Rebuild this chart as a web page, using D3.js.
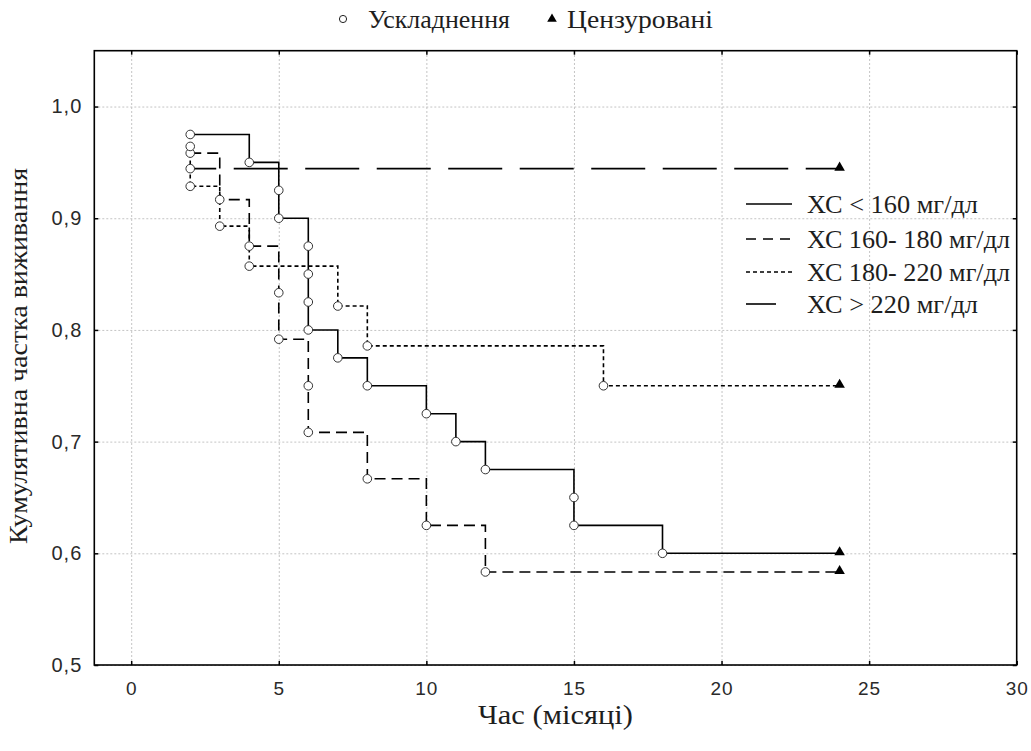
<!DOCTYPE html>
<html>
<head>
<meta charset="utf-8">
<script src="https://cdn.jsdelivr.net/npm/d3@7"></script>
<style>
  html, body { margin: 0; padding: 0; background: #fff; }
  svg { display: block; }
</style>
</head>
<body>
<svg id="chart" width="1031" height="751"></svg>
<script>
// ---- data ----
const xTicks = [0, 5, 10, 15, 20, 25, 30];
const yTicks = [0.5, 0.6, 0.7, 0.8, 0.9, 1.0];
const seriesNames = ["ХС < 160 мг/дл", "ХС 160- 180 мг/дл", "ХС 180- 220 мг/дл", "ХС > 220 мг/дл"];

const timesLt160 = [2, 4, 5, 5, 6, 6, 6, 6, 7, 8, 10, 11, 12, 15, 15, 18];
const survLt160  = [0.975, 0.95, 0.925, 0.9, 0.875, 0.85, 0.825, 0.8, 0.775, 0.75, 0.725, 0.7, 0.675, 0.65, 0.625, 0.6];

const times160_180 = [2, 3, 4, 5, 5, 6, 6, 8, 10, 12];
const surv160_180  = [0.9583, 0.9167, 0.875, 0.8333, 0.7917, 0.75, 0.7083, 0.6667, 0.625, 0.5833];

const times180_220 = [2, 2, 3, 4, 7, 8, 16];
const surv180_220  = [0.9643, 0.9286, 0.8929, 0.8571, 0.8214, 0.7857, 0.75];

const timesGt220 = [2];
const survGt220  = [0.9444];

const censorTimes = [24, 24, 24, 24];

const legendTop = ["Ускладнення", "Цензуровані"];
const xTitle = "Час (місяці)";
const yTitle = "Кумулятивна частка виживання";

// ---- layout ----
const svg = d3.select("#chart");
const L = 94.3, R = 1016.7, T = 50.7, B = 665;
const x = d3.scaleLinear().domain([-1.25, 30]).range([L, R]);
const y = d3.scaleLinear().domain([0.5, 1.05]).range([B, T]);
const fmt = d => d3.format(".1f")(d).replace(".", ",");
const SANS = "'Liberation Sans', Arial, sans-serif";
const SERIF = "'Liberation Serif', 'Times New Roman', serif";
const TXT = "#1e1e1e";

// grid
const gx = svg.append("g").attr("transform", `translate(0,${B})`)
  .call(d3.axisBottom(x).tickValues(xTicks.filter(v => v < 30)).tickSize(-(B - T)).tickFormat(""));
const gy = svg.append("g").attr("transform", `translate(${L},0)`)
  .call(d3.axisLeft(y).tickValues(yTicks).tickSize(-(R - L)).tickFormat(""));
[gx, gy].forEach(g => {
  g.select(".domain").remove();
  g.selectAll(".tick line").attr("stroke", "#c4c4c4").attr("stroke-width", 1).attr("stroke-dasharray", "2,2");
});

// axes with inward ticks
const axB = svg.append("g").attr("transform", `translate(0,${B})`)
  .call(d3.axisBottom(x).tickValues(xTicks).tickSize(-4).tickPadding(17).tickFormat(d3.format("d")));
const axL = svg.append("g").attr("transform", `translate(${L},0)`)
  .call(d3.axisLeft(y).tickValues(yTicks).tickSize(-4).tickPadding(12).tickFormat(fmt));
const axT = svg.append("g").attr("transform", `translate(0,${T})`)
  .call(d3.axisTop(x).tickValues(xTicks).tickSize(-4).tickFormat(""));
const axR = svg.append("g").attr("transform", `translate(${R},0)`)
  .call(d3.axisRight(y).tickValues(yTicks).tickSize(-4).tickFormat(""));
[axB, axL, axT, axR].forEach(g => {
  g.select(".domain").remove();
  g.selectAll(".tick line").attr("stroke", "#000").attr("stroke-width", 1.5);
  g.selectAll(".tick text").attr("font-family", SANS).attr("font-size", 20).attr("fill", "#2a2a2a")
    .attr("letter-spacing", 1);
});
axB.selectAll(".tick text").attr("font-size", 19);

// frame
svg.append("rect").attr("x", L).attr("y", T).attr("width", R - L).attr("height", B - T)
  .attr("fill", "none").attr("stroke", "#000").attr("stroke-width", 1.6);

// series
const series = [
  { t: timesLt160, s: survLt160, dash: null, off: 0 },
  { t: times160_180, s: surv160_180, dash: "11,6", off: 0 },
  { t: times180_220, s: surv180_220, dash: "4,3", off: 0 },
  { t: timesGt220, s: survGt220, dash: "54,17.5", off: 28 }
];
const line = d3.line().x(d => x(d[0])).y(d => y(d[1])).curve(d3.curveStepAfter);
series.forEach((se, i) => {
  const pts = se.t.map((t, k) => [t, se.s[k]]);
  pts.push([censorTimes[i], se.s[se.s.length - 1]]);
  const p = svg.append("path").attr("d", line(pts)).attr("fill", "none")
    .attr("stroke", "#000").attr("stroke-width", 1.6);
  if (se.dash) p.attr("stroke-dasharray", se.dash).attr("stroke-dashoffset", se.off);
});
// markers
series.forEach((se, i) => {
  svg.append("g").selectAll("circle").data(se.t.map((t, k) => [t, se.s[k]])).join("circle")
    .attr("cx", d => x(d[0])).attr("cy", d => y(d[1])).attr("r", 4.3)
    .attr("fill", "#fff").attr("stroke", "#333").attr("stroke-width", 1);
  svg.append("path")
    .attr("d", d3.symbol().type(d3.symbolTriangle).size(48)())
    .attr("transform", `translate(${x(censorTimes[i])},${y(se.s[se.s.length - 1]) - 1})`)
    .attr("fill", "#000");
});

// top legend
svg.append("circle").attr("cx", 343).attr("cy", 19).attr("r", 3.6).attr("fill", "#fff").attr("stroke", "#222").attr("stroke-width", 1);
svg.append("text").attr("x", 368).attr("y", 27.5).attr("font-family", SERIF).attr("font-size", 25)
  .attr("textLength", 142).attr("lengthAdjust", "spacingAndGlyphs").attr("fill", TXT).text(legendTop[0]);
svg.append("path").attr("d", d3.symbol().type(d3.symbolTriangle).size(40)())
  .attr("transform", "translate(552,19)").attr("fill", "#000");
svg.append("text").attr("x", 567).attr("y", 27.5).attr("font-family", SERIF).attr("font-size", 25)
  .attr("textLength", 146).attr("lengthAdjust", "spacingAndGlyphs").attr("fill", TXT).text(legendTop[1]);

// right legend
const legRows = [205, 240, 273, 305];
const legLens = [171, 203, 203, 171];
const legDash = [null, "10,7", "4,3", null];
seriesNames.forEach((n, i) => {
  const x2 = i === 3 ? 776 : 792;
  const ln = svg.append("line").attr("x1", 746).attr("x2", x2).attr("y1", legRows[i] - 1).attr("y2", legRows[i] - 1)
    .attr("stroke", "#000").attr("stroke-width", 1.6);
  if (legDash[i]) ln.attr("stroke-dasharray", legDash[i]);
  svg.append("text").attr("x", 807).attr("y", legRows[i] + 8).attr("font-family", SERIF).attr("font-size", 26)
    .attr("textLength", legLens[i]).attr("lengthAdjust", "spacingAndGlyphs").attr("fill", TXT).text(n);
});

// axis titles
svg.append("text").attr("x", (L + R) / 2).attr("y", 724).attr("text-anchor", "middle")
  .attr("font-family", SERIF).attr("font-size", 27).attr("fill", TXT)
  .attr("textLength", 155).attr("lengthAdjust", "spacingAndGlyphs").text(xTitle);
svg.append("text").attr("transform", `translate(27,356) rotate(-90)`).attr("text-anchor", "middle")
  .attr("font-family", SERIF).attr("font-size", 26).attr("fill", TXT)
  .attr("textLength", 376).attr("lengthAdjust", "spacingAndGlyphs").text(yTitle);
</script>
</body>
</html>
